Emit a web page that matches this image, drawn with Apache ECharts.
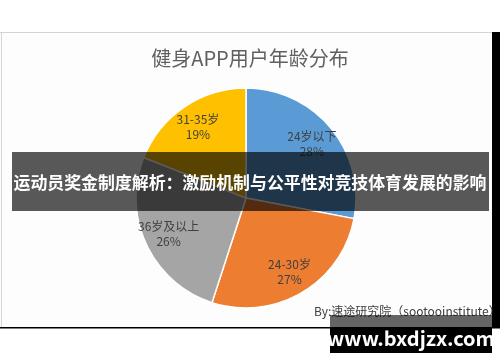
<!DOCTYPE html>
<html><head><meta charset="utf-8">
<script src="https://cdn.jsdelivr.net/npm/echarts@6/dist/echarts.min.js"></script>
<style>html,body{margin:0;padding:0;background:#fff}#c{width:500px;height:362px}</style>
</head><body><div id="c"></div>
<script>
var categories = ['24岁以下', '24-30岁', '36岁及以上', '31-35岁'];
var values = [28, 27, 26, 19];
var colors = ['#5B9BD5', '#ED7D31', '#A5A5A5', '#FFC000'];
var titleText = '健身APP用户年龄分布';
var bannerText = '运动员奖金制度解析：激励机制与公平性对竞技体育发展的影响';
var sourceText = 'By:速途研究院（sootooinstitute）';
var watermarkText = 'www.bxdjzx.com';

var data = categories.map(function (c, i) { return { name: c, value: values[i], itemStyle: { color: colors[i] } }; });
var font = '"Noto Sans CJK SC", "Open Sans", sans-serif';
var chart = echarts.init(document.getElementById('c'), null, { renderer: 'canvas' });
chart.setOption({
  backgroundColor: '#ffffff',
  animation: false,
  title: {
    text: titleText, left: 'center', top: 43,
    textStyle: { fontFamily: font, fontSize: 20, fontWeight: 'normal', color: '#606060' }
  },
  graphic: [
    { type: 'rect', z: 0, shape: { x: 0, y: 32, width: 492, height: 296 }, style: { fill: '#fdfdfd' } },
    { type: 'rect', z: 1, shape: { x: 0, y: 32, width: 492, height: 1 }, style: { fill: '#d4d4d4' } },
    { type: 'rect', z: 1, shape: { x: 1, y: 32, width: 1, height: 296 }, style: { fill: '#d4d4d4' } },
    { type: 'rect', z: 1, shape: { x: 492, y: 32, width: 8, height: 296 }, style: { fill: '#000000' } },
    { type: 'rect', z: 1, shape: { x: 0, y: 327, width: 500, height: 1.5 }, style: { fill: '#000000' } },
    { type: 'text', z: 50, style: { x: 314, y: 311, text: sourceText, fill: '#404040', font: '12px ' + font, verticalAlign: 'middle' } },
    { type: 'rect', z: 100, shape: { x: 12, y: 152, width: 477, height: 59 }, style: { fill: 'rgba(0,0,0,0.65)' } },
    { type: 'text', z: 101, style: { x: 250, y: 183, text: bannerText, fill: '#ffffff', font: 'bold 16.9px ' + font, align: 'center', verticalAlign: 'middle' } },
    { type: 'rect', z: 100, shape: { x: 330, y: 315, width: 162, height: 12 }, style: { fill: 'rgba(0,0,0,0.6)' } },
    { type: 'rect', z: 100, shape: { x: 330, y: 327, width: 162, height: 26 }, style: { fill: '#000000' } },
    { type: 'text', z: 101, style: { x: 411, y: 338, text: watermarkText, fill: '#ffffff', font: 'bold 20px ' + font, align: 'center', verticalAlign: 'middle' } }
  ],
  series: [
    {
      type: 'pie', center: [246, 198], radius: [0, 110], startAngle: 90, clockwise: true,
      z: 10, silent: true, label: { show: false }, labelLine: { show: false },
      itemStyle: { borderColor: '#ffffff', borderWidth: 1.5 },
      data: data
    },
    {
      type: 'pie', center: [246, 198], radius: [55, 110], startAngle: 90, clockwise: true,
      z: 20, silent: true,
      itemStyle: { color: 'rgba(0,0,0,0)', borderWidth: 0 },
      label: {
        show: true, position: 'inside', formatter: '{b}\n{d}%',
        fontFamily: font, fontSize: 12, lineHeight: 15, color: '#404040'
      },
      labelLine: { show: false },
      data: categories.map(function (c, i) { return { name: c, value: values[i], itemStyle: { color: 'rgba(0,0,0,0)' } }; })
    }
  ]
});
</script></body></html>
